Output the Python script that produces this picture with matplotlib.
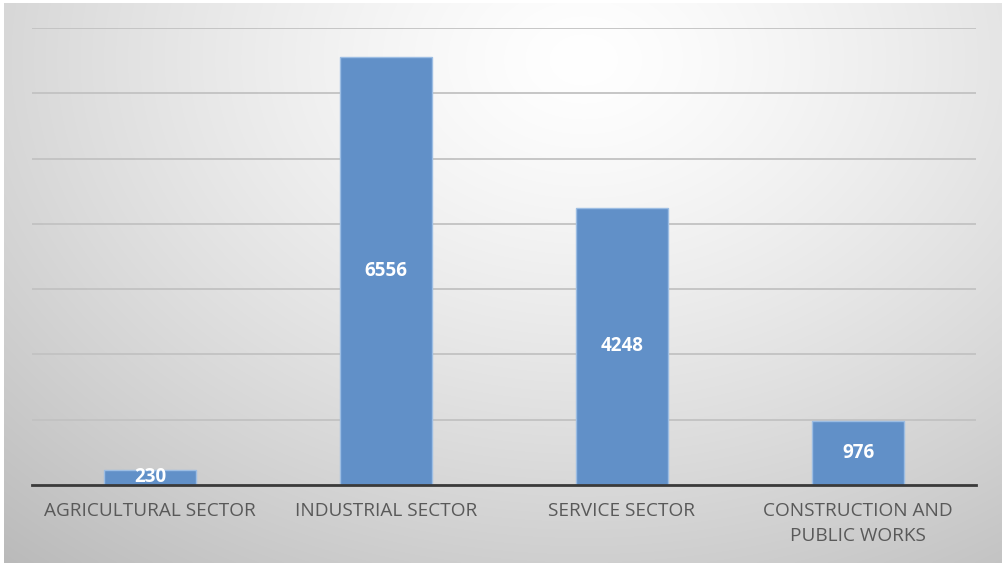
import numpy as np
import matplotlib
matplotlib.use("Agg")
import matplotlib.pyplot as plt

categories = ["AGRICULTURAL SECTOR", "INDUSTRIAL SECTOR", "SERVICE SECTOR",
              "CONSTRUCTION AND\nPUBLIC WORKS"]
values = [230, 6556, 4248, 976]
y_max = 7000
y_step = 1000

W, H, DPI = 1005, 565, 100
fig = plt.figure(figsize=(W / DPI, H / DPI), dpi=DPI)
fig.patch.set_facecolor("white")

# background radial gradient panel
bg = fig.add_axes([4 / W, 1 - 563 / H, 997 / W, 560 / H])
ny, nx = 280, 500
yy, xx = np.mgrid[0:ny, 0:nx]
cx, cy = 0.58 * nx, 0.1 * ny
d = np.sqrt(((xx - cx) / nx) ** 2 + ((yy - cy) / ny * 0.75) ** 2)
d = d / d.max()
val = 1.0 - 0.27 * np.clip(d, 0, 1) ** 1.3
img = np.dstack([val, val, val])
bg.imshow(img, aspect="auto", extent=[0, 1, 0, 1], interpolation="bilinear")
bg.set_axis_off()

ax = fig.add_axes([32 / W, 1 - 485 / H, 944 / W, 457 / H])
ax.patch.set_alpha(0)
x = np.arange(len(categories))
bars = ax.bar(x, values, width=0.39, color="#6190c8", edgecolor="#9cbde3",
              linewidth=1.0, zorder=3)
ax.set_xlim(-0.5, len(categories) - 0.5)
ax.set_ylim(0, y_max)
ax.set_yticks(np.arange(0, y_max + 1, y_step))
ax.yaxis.grid(True, color="#c2c2c2", linewidth=1.3, zorder=0)
ax.tick_params(axis="y", length=0, labelleft=False)
ax.tick_params(axis="x", length=0, pad=12)
ax.set_xticks(x)
ax.set_xticklabels(categories, fontsize=13.7, color="#595959",
                   family="Open Sans", linespacing=1.5)
for s in ["top", "right", "left"]:
    ax.spines[s].set_visible(False)
ax.spines["bottom"].set_color("#3a3a3a")
ax.spines["bottom"].set_linewidth(2)
ax.spines["bottom"].set_zorder(4)

for xi, v in zip(x, values):
    ax.text(xi, v / 2, str(v), ha="center", va="center", color="white",
            fontsize=13.5, fontweight="bold", family="Open Sans", zorder=5)

fig.savefig("out.png", dpi=DPI)
